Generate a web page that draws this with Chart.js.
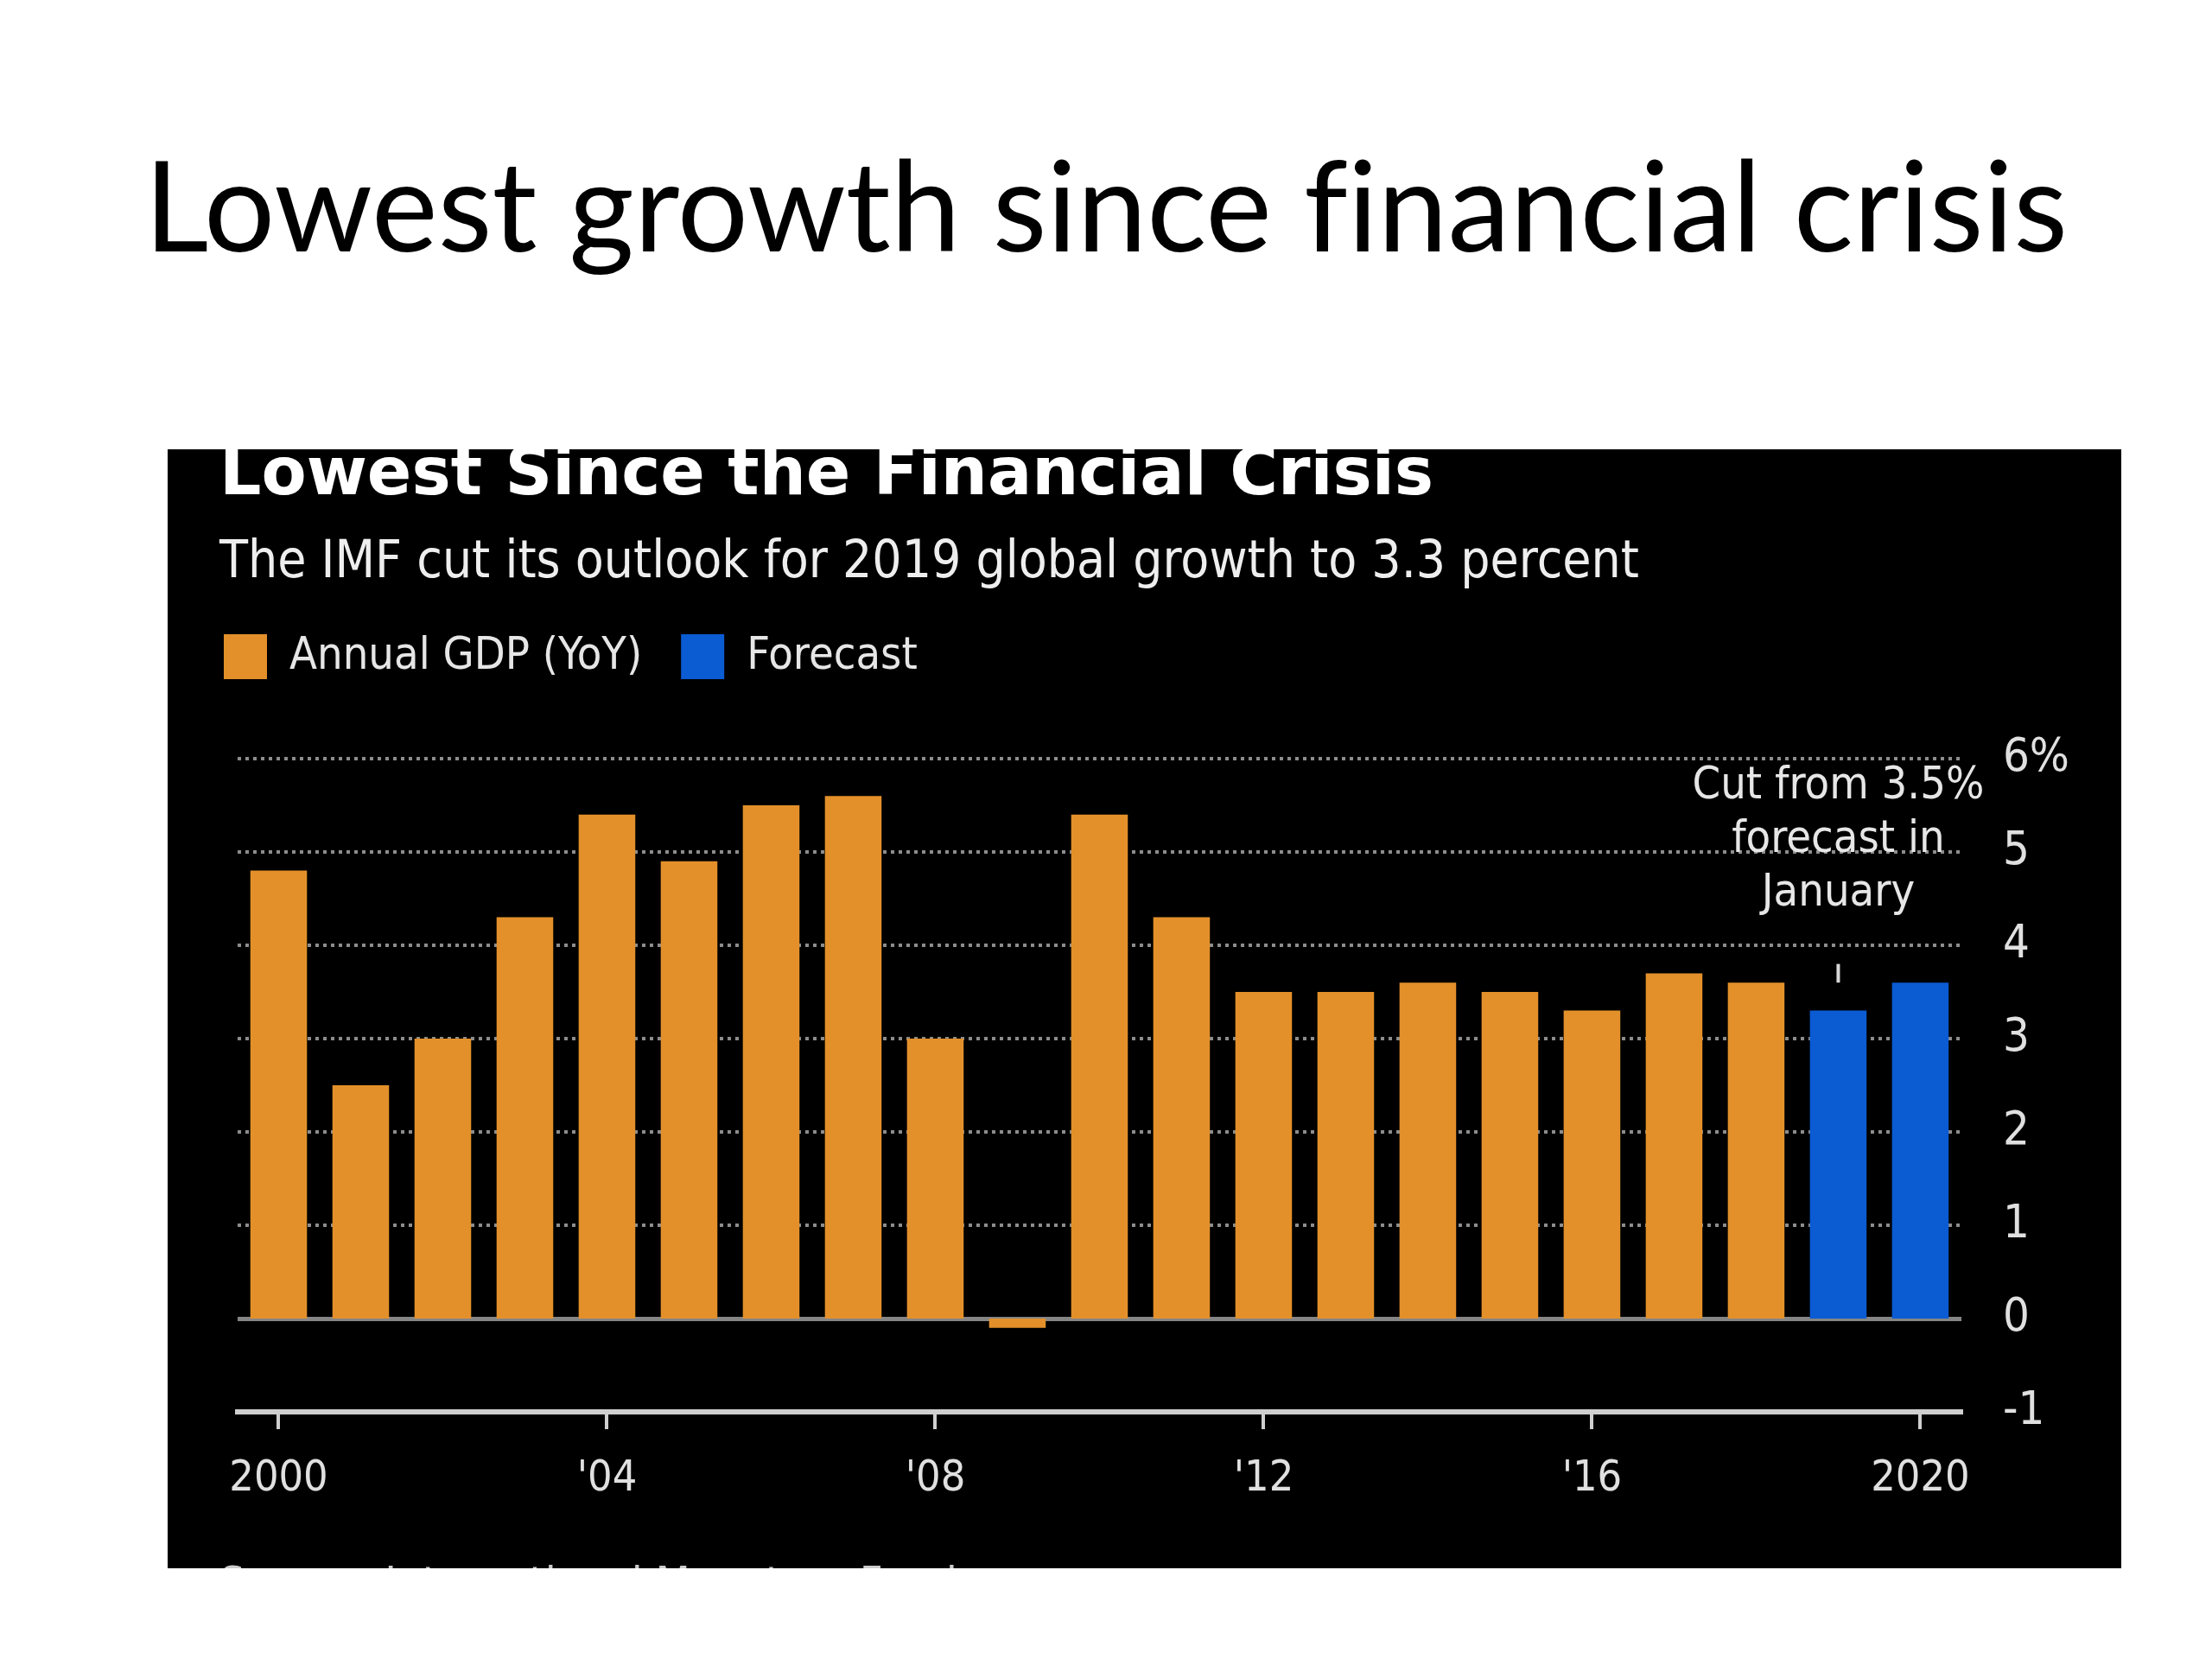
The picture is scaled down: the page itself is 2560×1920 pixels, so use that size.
<!DOCTYPE html>
<html lang="en">
<head>
    <meta charset="UTF-8">
    <title>Lowest growth since financial crisis</title>
    <script src="https://cdn.jsdelivr.net/npm/chart.js"></script>
    <style>
        body {
            margin: 0;
            width: 2560px;
            height: 1920px;
            background: #fff;
            position: relative;
            overflow: hidden;
        }
        .slide-title {
            position: absolute;
            top: 148px;
            left: 0;
            width: 2560px;
            text-align: center;
            font-family: Lato, "Open Sans", sans-serif;
            font-size: 145px;
            line-height: 1.2;
            font-variant-ligatures: none;
            color: #000;
        }
        .panel {
            position: absolute;
            left: 194px;
            top: 520px;
            width: 2261px;
            height: 1295px;
            background: #000;
            overflow: hidden;
        }
        .heading {
            position: absolute;
            left: 60px;
            top: -12px;
            font-family: "DejaVu Sans", sans-serif;
            font-weight: bold;
            font-size: 76px;
            line-height: 76px;
            color: #fff;
            white-space: nowrap;
        }
        .subtitle {
            position: absolute;
            left: 60px;
            top: 92px;
            font-family: "Liberation Sans Narrow", "DejaVu Sans Condensed", sans-serif;
            font-size: 60px;
            line-height: 70px;
            color: #eee;
            white-space: nowrap;
        }
        .source {
            position: absolute;
            left: 60px;
            top: 1282px;
            font-family: "Liberation Sans Narrow", "DejaVu Sans Condensed", sans-serif;
            font-size: 52px;
            color: #ccc;
            white-space: nowrap;
            z-index: 2;
        }
        .chart-box {
            position: absolute;
            left: 0;
            top: 169px;
            width: 2261px;
            height: 1126px;
        }
    </style>
</head>
<body>
    <div class="slide-title">Lowest growth since financial crisis</div>
    <div class="panel">
        <div class="heading">Lowest Since the Financial Crisis</div>
        <div class="subtitle">The IMF cut its outlook for 2019 global growth to 3.3 percent</div>
        <div class="chart-box">
            <canvas id="gdpChart"></canvas>
        </div>
        <div class="source">Source: International Monetary Fund</div>
    </div>

    <script>
        const years = [2000, 2001, 2002, 2003, 2004, 2005, 2006, 2007, 2008, 2009, 2010,
                       2011, 2012, 2013, 2014, 2015, 2016, 2017, 2018, 2019, 2020];
        // actual growth, null where the IMF forecast takes over
        const gdpValues = [4.8, 2.5, 3.0, 4.3, 5.4, 4.9, 5.5, 5.6, 3.0, -0.1, 5.4,
                           4.3, 3.5, 3.5, 3.6, 3.5, 3.3, 3.7, 3.6, null, null];
        const forecastValues = [null, null, null, null, null, null, null, null, null, null, null,
                                null, null, null, null, null, null, null, null, 3.3, 3.6];
        const tickYears = [2000, 2004, 2008, 2012, 2016, 2020];
        const tickTexts = ['2000', "'04", "'08", "'12", "'16", '2020'];
        const noteYear = 2019;
        const noteLines = ['Cut from 3.5%', 'forecast in', 'January'];
        const noteTop = 5.7;
        const markRange = [3.6, 3.8];

        const narrow = "'Liberation Sans Narrow', 'DejaVu Sans Condensed', sans-serif";
        const orange = '#e3902a';
        const blue = '#0b5bd3';

        // text note and little marker above the 2019 bar
        const notePlugin = {
            id: 'note',
            afterDatasetsDraw(chart) {
                const ctx = chart.ctx;
                const x = chart.scales.x.getPixelForValue(years.indexOf(noteYear));
                const y = chart.scales.y;
                ctx.save();
                ctx.fillStyle = '#e6e6e6';
                ctx.font = '52px ' + narrow;
                ctx.textAlign = 'center';
                ctx.textBaseline = 'middle';
                noteLines.forEach((line, i) => {
                    ctx.fillText(line, x, y.getPixelForValue(noteTop) + i * 62);
                });
                ctx.strokeStyle = '#d8d8d8';
                ctx.lineWidth = 4;
                ctx.beginPath();
                ctx.moveTo(x, y.getPixelForValue(markRange[0]));
                ctx.lineTo(x, y.getPixelForValue(markRange[1]));
                ctx.stroke();
                ctx.restore();
            }
        };

        // leave room between the legend and the top gridline
        const legendGap = {
            id: 'legendGap',
            beforeInit(chart) {
                const fit = chart.legend.fit;
                chart.legend.fit = function () {
                    fit.bind(chart.legend)();
                    this.height += 82;
                };
            }
        };

        const ctx = document.getElementById('gdpChart').getContext('2d');
        const gdpChart = new Chart(ctx, {
            type: 'bar',
            data: {
                labels: years,
                datasets: [
                    {
                        label: 'Annual GDP (YoY)',
                        data: gdpValues,
                        backgroundColor: orange,
                        barPercentage: 0.69,
                        categoryPercentage: 1.0
                    },
                    {
                        label: 'Forecast',
                        data: forecastValues,
                        backgroundColor: blue,
                        barPercentage: 0.69,
                        categoryPercentage: 1.0
                    }
                ]
            },
            options: {
                responsive: true,
                maintainAspectRatio: false,
                animation: false,
                layout: {
                    padding: { left: 20, right: 12, top: 0, bottom: 45 }
                },
                plugins: {
                    legend: {
                        position: 'top',
                        align: 'start',
                        labels: {
                            color: '#e6e6e6',
                            boxWidth: 50,
                            boxHeight: 52,
                            padding: 45,
                            font: { family: narrow, size: 52 }
                        }
                    },
                    tooltip: { enabled: false }
                },
                scales: {
                    x: {
                        stacked: true,
                        grid: {
                            offset: false,
                            drawOnChartArea: false,
                            drawTicks: true,
                            tickLength: 20,
                            lineWidth: 4,
                            color: c => (c.tick && tickYears.includes(years[c.index])) ? '#cfcfcf' : 'transparent'
                        },
                        border: { display: true, color: '#cfcfcf', width: 6 },
                        ticks: {
                            autoSkip: false,
                            maxRotation: 0,
                            padding: 28,
                            color: '#e0e0e0',
                            font: { family: narrow, size: 50 },
                            callback: (v, i) => {
                                const k = tickYears.indexOf(years[i]);
                                return k >= 0 ? tickTexts[k] : '';
                            }
                        }
                    },
                    yLeft: {
                        position: 'left',
                        display: true,
                        grid: { display: false },
                        border: { display: false },
                        ticks: { display: false },
                        afterFit: s => { s.width = 61; }
                    },
                    y: {
                        stacked: true,
                        position: 'right',
                        min: -1,
                        max: 6,
                        ticks: {
                            stepSize: 1,
                            padding: 48,
                            color: '#e0e0e0',
                            font: { family: narrow, size: 54 },
                            callback: v => v === 6 ? '6%' : v
                        },
                        grid: {
                            drawTicks: false,
                            color: c => c.tick.value === -1 ? 'transparent' : (c.tick.value === 0 ? '#858585' : '#8c8c8c'),
                            lineWidth: c => c.tick.value === 0 ? 5 : 4
                        },
                        border: {
                            display: false,
                            dash: c => c.tick && c.tick.value === 0 ? [] : [4, 5]
                        }
                    }
                }
            },
            plugins: [notePlugin, legendGap]
        });
    </script>
</body>
</html>
